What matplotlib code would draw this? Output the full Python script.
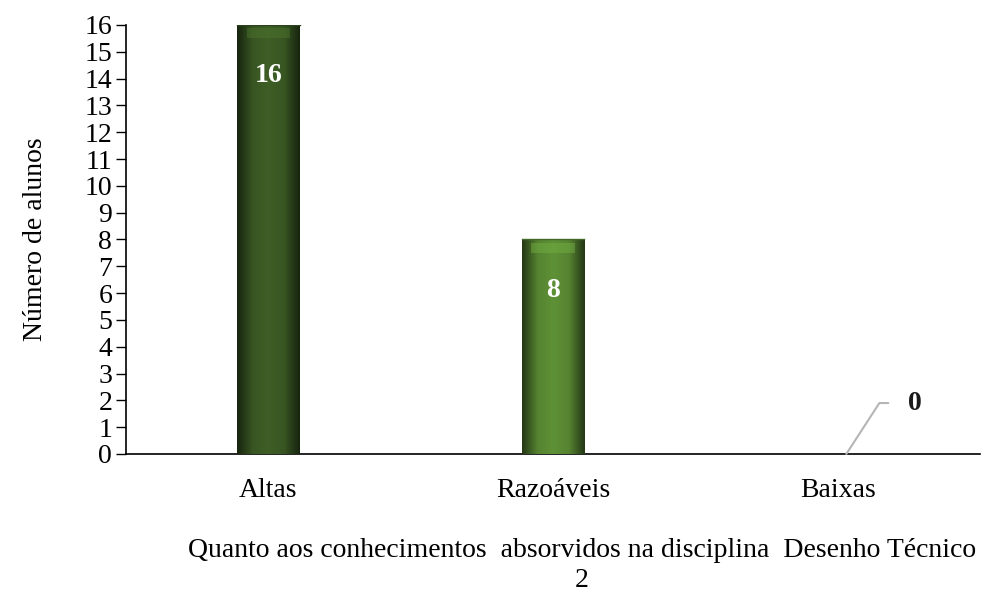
import matplotlib
matplotlib.use("Agg")
import matplotlib.pyplot as plt
import numpy as np
from matplotlib.colors import LinearSegmentedColormap

categories = ["Altas", "Razoáveis", "Baixas"]
values = [16, 8, 0]
bar_colors = ["#3b5a24", "#5a8a34", "#5a8a34"]
ylabel = "Número de alunos"
xlabel = "Quanto aos conhecimentos  absorvidos na disciplina  Desenho Técnico\n2"
yticks = list(range(0, 17))

plt.rcParams['font.family'] = ['Liberation Serif', 'DejaVu Serif']

fig = plt.figure(figsize=(9.93, 5.95), dpi=100)
ax = fig.add_axes([0.127, 0.237, 0.86, 0.721])

x = np.arange(len(categories))
bw = 0.22
bars = ax.bar(x, values, width=bw, color=bar_colors, edgecolor="none", zorder=2)

ax.set_xlim(-0.5, 2.5)
ax.set_ylim(0, 16)

def shade(c, f):
    c = np.array(matplotlib.colors.to_rgb(c))
    return tuple(np.clip(c * f, 0, 1))

for b, c in zip(bars, bar_colors):
    h = b.get_height()
    if h <= 0:
        continue
    x0 = b.get_x(); w = b.get_width()
    cmap = LinearSegmentedColormap.from_list("g", [shade(c, 0.4), shade(c, 0.95), shade(c, 1.05), shade(c, 0.95), shade(c, 0.4)])
    grad = np.linspace(0, 1, 200).reshape(1, -1)
    im = ax.imshow(grad, extent=[x0, x0 + w, 0, h], aspect="auto", cmap=cmap, zorder=3, interpolation="bicubic")
    im.set_clip_path(b)
    ax.fill_between([x0 + w * 0.15, x0 + w * 0.85], h - 0.5, h - 0.12, color=shade(c, 1.3), alpha=0.45, zorder=4, linewidth=0)
    ax.plot([x0, x0 + w], [h, h], color=shade(c, 0.75), lw=1, zorder=5)

for xi, v in zip(x, values):
    if v > 0:
        ax.text(xi, v - 1.9, str(v), ha="center", va="center", color="white",
                fontsize=20, fontweight="bold", zorder=6)
    else:
        ax.annotate(str(v), xy=(xi + 0.03, v), xytext=(xi + 0.27, v + 1.9),
                    ha="center", va="center", fontsize=20, fontweight="bold",
                    color="#1a1a1a",
                    arrowprops=dict(arrowstyle="-", color="#b5b5b5", lw=1.5,
                                    connectionstyle="angle,angleA=0,angleB=57,rad=0",
                                    shrinkA=12, shrinkB=0))

ax.set_yticks(yticks)
ax.set_xticks(x)
ax.set_xticklabels(categories)
ax.tick_params(axis="y", labelsize=20, length=7, width=1, direction="out", pad=3)
ax.tick_params(axis="x", labelsize=20, length=0, pad=17)
ax.spines["top"].set_visible(False)
ax.spines["right"].set_visible(False)
ax.spines["left"].set_linewidth(1.2)
ax.spines["bottom"].set_linewidth(1.2)

ax.set_ylabel(ylabel, fontsize=20, labelpad=26)
ax.set_xlabel(xlabel, fontsize=20, linespacing=1.3)
ax.xaxis.set_label_coords(0.534, -0.195)
ax.xaxis.label.set_va("top")

fig.savefig("out.png", dpi=100)
